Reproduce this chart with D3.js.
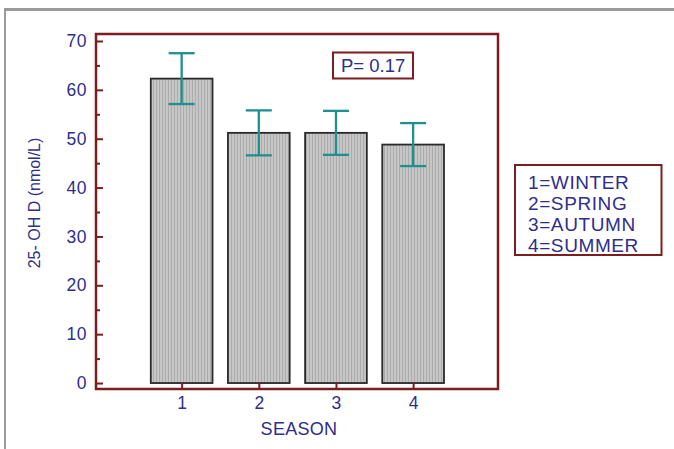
<!DOCTYPE html>
<html>
<head>
<meta charset="utf-8">
<script src="https://cdn.jsdelivr.net/npm/d3@7"></script>
<style>
  body { margin: 0; background: #fff; }
  text { font-family: Arial, "Liberation Sans", sans-serif; }
</style>
</head>
<body>
<main></main>
<script>
const seasons = [1, 2, 3, 4];
const means = [62.3, 51.2, 51.2, 48.8];
const errors = [5.2, 4.6, 4.5, 4.4];
const yTicks = [0, 10, 20, 30, 40, 50, 60, 70];
const yMinorTicks = [5, 15, 25, 35, 45, 55, 65];
const legendLines = ["1=WINTER", "2=SPRING", "3=AUTUMN", "4=SUMMER"];
const pLabel = "P= 0.17";

const drawChart = () => {
    const W = 674, H = 449;
    const plot = {left: 96, right: 498, top: 34, bottom: 389};
    const axisColor = "#7d1d1d", textColor = "#2e2e8c", barStroke = "#2a2a2a", errColor = "#1f8f8f";

    const svg = d3.select("main").append("svg")
        .attr("width", W)
        .attr("height", H);

    // bar fill texture
    const pat = svg.append("defs").append("pattern")
        .attr("id", "stripes")
        .attr("patternUnits", "userSpaceOnUse")
        .attr("width", 3).attr("height", 3);
    pat.append("rect").attr("width", 3).attr("height", 3).attr("fill", "#c6c6c6");
    pat.append("rect").attr("width", 1).attr("height", 3).attr("fill", "#acacac");

    // outer gray frame
    svg.append("line").attr("x1", 4).attr("x2", W).attr("y1", 9.5).attr("y2", 9.5)
        .attr("stroke", "#9a9a9a").attr("stroke-width", 3);
    svg.append("line").attr("x1", 5).attr("x2", 5).attr("y1", 9).attr("y2", H)
        .attr("stroke", "#9a9a9a").attr("stroke-width", 2);

    const xScale = d3.scaleLinear().domain([-0.11, 5.1]).range([plot.left, plot.right]);
    const yScale = d3.scaleLinear().domain([-1.22, 71.43]).range([plot.bottom, plot.top]);
    const barW = xScale(0.8) - xScale(0);

    // bars
    svg.selectAll(".bar")
        .data(seasons)
        .enter()
        .append("rect")
        .attr("class", "bar")
        .attr("x", (d) => xScale(d) - barW / 2)
        .attr("y", (d, i) => yScale(means[i]))
        .attr("width", barW)
        .attr("height", (d, i) => yScale(0) - yScale(means[i]))
        .attr("fill", "url(#stripes)")
        .attr("stroke", barStroke)
        .attr("stroke-width", 1.8);

    // error bars
    const eb = svg.selectAll(".err")
        .data(seasons)
        .enter()
        .append("g")
        .attr("class", "err")
        .attr("stroke", errColor)
        .attr("stroke-width", 2.3);
    eb.append("line")
        .attr("x1", (d) => xScale(d)).attr("x2", (d) => xScale(d))
        .attr("y1", (d, i) => yScale(means[i] + errors[i]))
        .attr("y2", (d, i) => yScale(means[i] - errors[i]));
    eb.append("line")
        .attr("x1", (d) => xScale(d) - 13).attr("x2", (d) => xScale(d) + 13)
        .attr("y1", (d, i) => yScale(means[i] + errors[i]))
        .attr("y2", (d, i) => yScale(means[i] + errors[i]));
    eb.append("line")
        .attr("x1", (d) => xScale(d) - 13).attr("x2", (d) => xScale(d) + 13)
        .attr("y1", (d, i) => yScale(means[i] - errors[i]))
        .attr("y2", (d, i) => yScale(means[i] - errors[i]));

    // axes with inward ticks
    const yAxis = svg.append("g")
        .attr("transform", "translate(" + plot.left + ",0)")
        .call(d3.axisLeft(yScale).tickValues(yTicks).tickSize(-7).tickPadding(9));
    svg.append("g")
        .attr("transform", "translate(" + plot.left + ",0)")
        .call(d3.axisLeft(yScale).tickValues(yMinorTicks).tickSize(-4).tickFormat(""));
    const xAxis = svg.append("g")
        .attr("transform", "translate(0," + plot.bottom + ")")
        .call(d3.axisBottom(xScale).tickValues(seasons).tickFormat(d3.format("d")).tickSize(-6).tickPadding(8));

    svg.selectAll(".domain").remove();
    svg.selectAll(".tick line").attr("stroke", axisColor).attr("stroke-width", 2);
    yAxis.selectAll("text").attr("fill", textColor).attr("font-size", 17.5).attr("letter-spacing", 0.5);
    xAxis.selectAll("text").attr("fill", textColor).attr("font-size", 17.5);

    // plot frame
    svg.append("rect")
        .attr("x", plot.left).attr("y", plot.top)
        .attr("width", plot.right - plot.left).attr("height", plot.bottom - plot.top)
        .attr("fill", "none").attr("stroke", axisColor).attr("stroke-width", 2.5);

    // axis titles
    svg.append("text")
        .attr("transform", "translate(40,203) rotate(-90)")
        .attr("text-anchor", "middle")
        .attr("fill", textColor)
        .attr("font-size", 16)
        .text("25- OH D (nmol/L)");
    svg.append("text")
        .attr("x", 299).attr("y", 435)
        .attr("text-anchor", "middle")
        .attr("fill", textColor)
        .attr("font-size", 18)
        .attr("letter-spacing", 0.3)
        .text("SEASON");

    // P value box
    svg.append("rect")
        .attr("x", 333).attr("y", 52.5).attr("width", 80).attr("height", 26)
        .attr("fill", "#fff").attr("stroke", axisColor).attr("stroke-width", 2);
    svg.append("text")
        .attr("x", 341).attr("y", 71.5)
        .attr("fill", textColor)
        .attr("font-size", 18.5)
        .text(pLabel);

    // legend box
    svg.append("rect")
        .attr("x", 515).attr("y", 165).attr("width", 146.5).attr("height", 90)
        .attr("fill", "#fff").attr("stroke", axisColor).attr("stroke-width", 2);
    svg.selectAll(".leg")
        .data(legendLines)
        .enter()
        .append("text")
        .attr("class", "leg")
        .attr("x", 528)
        .attr("y", (d, i) => 188.5 + i * 21.1)
        .attr("fill", textColor)
        .attr("font-size", 19)
        .attr("letter-spacing", 0.6)
        .text((d) => d);
}

drawChart();
</script>
</body>
</html>
